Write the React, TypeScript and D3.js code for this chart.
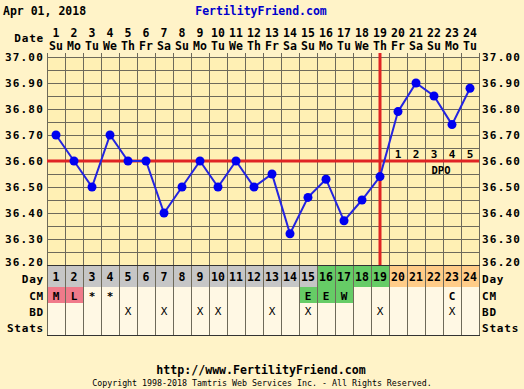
import React from "react";
import * as d3 from "d3";

const days = d3.range(1, 25);
const weekdays = ["Su","Mo","Tu","We","Th","Fr","Sa","Su","Mo","Tu","We","Th","Fr","Sa","Su","Mo","Tu","We","Th","Fr","Sa","Su","Mo","Tu"];
const temps = [36.70,36.60,36.50,36.70,36.60,36.60,36.40,36.50,36.60,36.50,36.60,36.50,36.55,36.32,36.46,36.53,36.37,36.45,36.54,36.79,36.90,36.85,36.74,36.88];
const yTicks = [36.2,36.3,36.4,36.5,36.6,36.7,36.8,36.9,37.0];
const coverline = 36.6;
const ovulationDay = 19;
const dpoDays = [20,21,22,23,24];
const dayColor = ["g","g","g","g","g","g","g","g","g","g","g","g","g","g","g","G","G","G","G","O","O","O","O","O"];
const cm = ["M","L","*","*","","","","","","","","","","","E","E","W","","","","","","C",""];
const cmColor = ["p","p","","","","","","","","","","","","","G","G","G","","","","","","",""];
const bd = [0,0,0,0,1,0,1,0,1,1,0,0,1,0,1,0,0,0,1,0,0,0,1,0];

const W = 524, H = 389;
const L = 47, R = 479, T = 57, B = 265;
const rows = [
  { key: "Day", y0: 265, y1: 287 },
  { key: "CM", y0: 287, y1: 303 },
  { key: "BD", y0: 303, y1: 319 },
  { key: "Stats", y0: 319, y1: 335 },
];
const fillMap: Record<string, string> = { g: "#C6C6C6", G: "#66CC66", O: "#FFCC88", p: "#F07A8A" };
const font = "'DejaVu Sans Mono', monospace";

export default function App() {
  const x = d3.scaleBand<number>().domain(days).range([L, R]);
  const bw = x.bandwidth();
  const cx = (d: number) => (x(d) as number) + bw / 2;
  const y = d3.scaleLinear().domain([36.2, 37.0]).range([B, T]);
  const grid = d3.range(36.2, 37.0001, 0.05);
  const line = d3.line<number>().x((_, i) => cx(days[i])).y((t) => y(t));
  const grey = "#6E6A5A";
  const labY = (t: number) => (t === 36.2 ? y(t) + 1 : y(t) + 4);

  return (
    <svg width={W} height={H} style={{ position: "absolute", left: 0, top: 0 }} fontFamily={font} fontWeight="bold">
      <rect width={W} height={H} fill="#FFF3C8" />
      <text x={3} y={15} fontSize={11.5} fill="#000">Apr 01, 2018</text>
      <text x={261} y={15} fontSize={11.5} fill="#0000CC" textAnchor="middle">FertilityFriend.com</text>
      <text x={44} y={42} fontSize={11} letterSpacing={0.8} textAnchor="end">Date</text>
      {days.map((d, i) => (
        <g key={"h" + d}>
          <text x={cx(d)} y={37} fontSize={11.5} textAnchor="middle">{d}</text>
          <text x={cx(d)} y={50} fontSize={11.5} textAnchor="middle">{weekdays[i]}</text>
        </g>
      ))}
      {/* plot bg */}
      <rect x={L} y={T} width={R - L} height={B - T} fill="#FFF0B4" />
      {grid.map((g, i) => (
        <line key={"gy" + i} x1={L} x2={R} y1={Math.round(y(g)) + 0.5} y2={Math.round(y(g)) + 0.5} stroke={grey} strokeWidth={1} />
      ))}
      {days.slice(1).map((d) => (
        <line key={"gx" + d} x1={(x(d) as number) + 0.5} x2={(x(d) as number) + 0.5} y1={T - 4} y2={B} stroke={grey} strokeWidth={1} />
      ))}
      <line x1={L + 0.5} x2={L + 0.5} y1={T - 4} y2={B} stroke={grey} />
      <line x1={R + 0.5} x2={R + 0.5} y1={T - 4} y2={B} stroke={grey} />
      {/* bottom rows */}
      {rows.map((r) => (
        <g key={r.key}>
          {days.map((d, i) => {
            let f = "#FFF8E4";
            if (r.key === "Day") f = fillMap[dayColor[i]];
            if (r.key === "CM" && cmColor[i]) f = fillMap[cmColor[i]];
            return <rect key={d} x={x(d) as number} y={r.y0} width={bw} height={r.y1 - r.y0} fill={f} />;
          })}
          {days.map((d) => (
            <line key={"v" + d} x1={(x(d) as number) + 0.5} x2={(x(d) as number) + 0.5} y1={r.y0} y2={r.y1} stroke={grey} />
          ))}
          <line x1={R + 0.5} x2={R + 0.5} y1={r.y0} y2={r.y1} stroke={grey} />
          <line x1={L} x2={R + 1} y1={r.y1 + 0.5} y2={r.y1 + 0.5} stroke="#333" />
          <text x={44} y={r.key === "Day" ? 283 : (r.y0 + r.y1) / 2 + 4.5} fontSize={11} letterSpacing={0.8} textAnchor="end">{r.key}</text>
          <text x={482} y={r.key === "Day" ? 283 : (r.y0 + r.y1) / 2 + 4.5} fontSize={11} letterSpacing={0.8}>{r.key}</text>
        </g>
      ))}
      <line x1={L} x2={R + 1} y1={B + 0.5} y2={B + 0.5} stroke="#333" />
      {days.map((d, i) => (
        <g key={"r" + d}>
          <text x={cx(d)} y={281} fontSize={11.5} textAnchor="middle">{d}</text>
          {cm[i] && <text x={cx(d)} y={300} fontSize={11} textAnchor="middle">{cm[i]}</text>}
          {bd[i] ? <text x={cx(d)} y={315} fontSize={11} fontWeight="normal" textAnchor="middle">X</text> : null}
        </g>
      ))}
      {/* y labels */}
      {yTicks.map((t) => (
        <g key={"yl" + t}>
          <text x={44} y={labY(t)} fontSize={11} letterSpacing={1.2} textAnchor="end">{t.toFixed(2)}</text>
          <text x={482} y={labY(t)} fontSize={11} letterSpacing={1.2}>{t.toFixed(2)}</text>
        </g>
      ))}
      {/* DPO */}
      {dpoDays.map((d, i) => (
        <text key={"dpo" + d} x={cx(d)} y={158} fontSize={11} textAnchor="middle">{i + 1}</text>
      ))}
      <text x={441} y={174} fontSize={10.5} textAnchor="middle">DPO</text>
      {/* coverline & ovulation */}
      <line x1={L} x2={R} y1={y(coverline)} y2={y(coverline)} stroke="#E02424" strokeWidth={3} />
      <line x1={cx(ovulationDay)} x2={cx(ovulationDay)} y1={T - 4} y2={B} stroke="#E02424" strokeWidth={3} />
      {/* temps */}
      <path d={line(temps) as string} fill="none" stroke="#2424E0" strokeWidth={2} />
      {temps.map((t, i) => (
        <circle key={"c" + i} cx={cx(days[i])} cy={y(t)} r={4.5} fill="#0000F0" />
      ))}
      <text x={261} y={374} fontSize={11.6} textAnchor="middle">http://www.FertilityFriend.com</text>
      <text x={262} y={386} fontSize={8.3} fontWeight="normal" textAnchor="middle">Copyright 1998-2018 Tamtris Web Services Inc. - All Rights Reserved.</text>
    </svg>
  );
}
